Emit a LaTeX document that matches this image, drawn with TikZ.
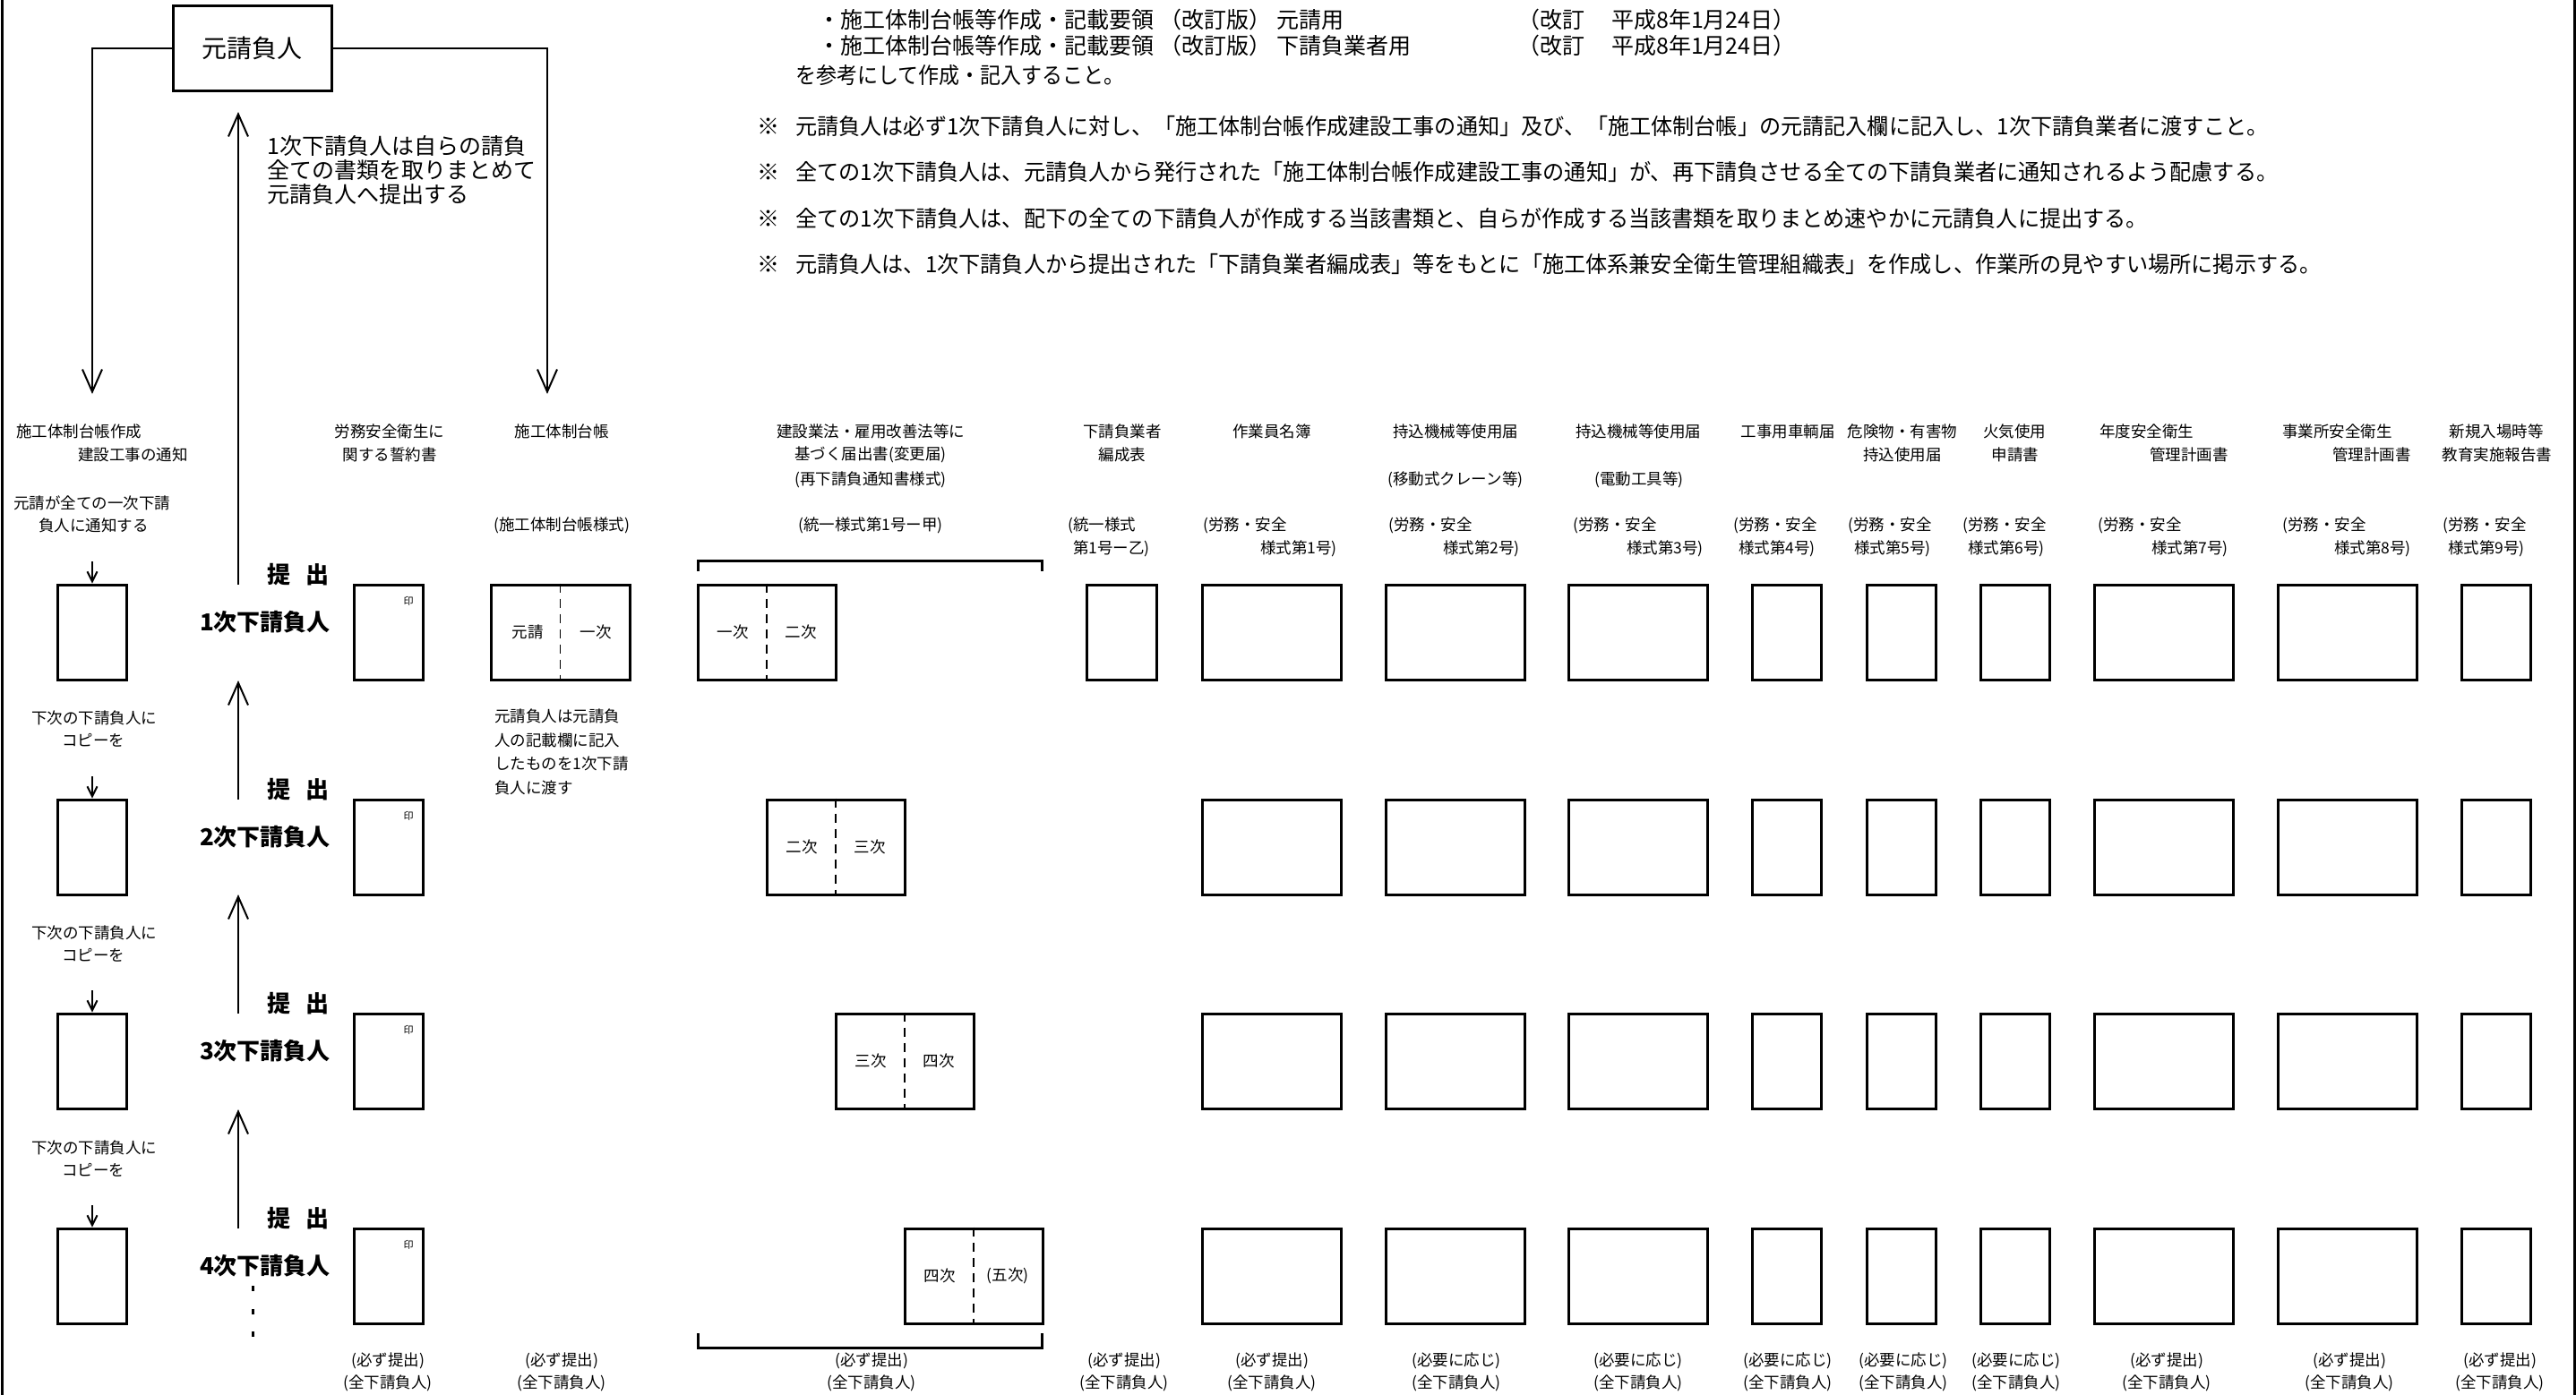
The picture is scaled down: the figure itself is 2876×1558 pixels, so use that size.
\documentclass[tikz,border=0pt]{standalone}
\usepackage{fontspec}
\setmainfont{Noto Sans CJK JP}
\newfontfamily\condfont[FakeStretch=0.966]{Noto Sans CJK JP}
\newfontfamily\condfontb[FakeStretch=0.92]{Noto Sans CJK JP}
\usetikzlibrary{arrows.meta}
\newcommand\fsz[1]{\fontsize{#1}{#1}\selectfont}
\begin{document}
\begin{tikzpicture}[x=1pt,y=-1pt,
  every node/.style={inner sep=0pt},
  sm/.style={font=\fsz{17.5}},
  md/.style={font=\fsz{25}},
  nt/.style={font=\condfont\fsz{25}},
  bg/.style={font=\bfseries\fsz{26}},
  docbox/.style={draw,line width=3pt,minimum height=106pt},
  nar/.style={docbox,minimum width=77pt},
  wid/.style={docbox,minimum width=155pt},
  conn/.style={line width=2pt},
  bigarr/.style={conn,-{Straight Barb[length=25pt,width=22pt]}},
  smallarr/.style={conn,-{Straight Barb[length=11pt,width=11pt]}},
  divider/.style={line width=1.5pt,dash pattern=on 10pt off 7pt},
  brk/.style={line width=3pt},
  stamp/.style={font=\fsz{11}},
]
\useasboundingbox (0,0) rectangle (2876,1558);
\fill[white] (0,0) rectangle (2876,1558);
\draw[line width=3pt] (2,0) -- (2,1558);
\draw[line width=3pt] (2874,0) -- (2874,1558);

% ---------- top reference text ----------
\node[md,anchor=west] (ref1) at (913,22) {・施工体制台帳等作成・記載要領\hspace{6pt}（改訂版）\hspace{6pt}元請用};
\node[md,anchor=west] (ref1d) at (1694,22) {（改訂\hspace{30pt}平成8年1月24日）};
\node[md,anchor=west] (ref2) at (913,51) {・施工体制台帳等作成・記載要領\hspace{6pt}（改訂版）\hspace{6pt}下請負業者用};
\node[md,anchor=west] (ref2d) at (1694,51) {（改訂\hspace{30pt}平成8年1月24日）};
\node[md,anchor=west,font=\condfontb\fsz{25}] (ref3) at (888,84) {を参考にして作成・記入すること。};

% ---------- notes ----------
\node[md,anchor=west] (k1) at (845,141) {※};
\node[nt,anchor=west] (n1) at (888,141) {元請負人は必ず1次下請負人に対し、「施工体制台帳作成建設工事の通知」及び、「施工体制台帳」の元請記入欄に記入し、1次下請負業者に渡すこと。};
\node[md,anchor=west] (k2) at (845,192) {※};
\node[nt,anchor=west] (n2) at (888,192) {全ての1次下請負人は、元請負人から発行された「施工体制台帳作成建設工事の通知」が、再下請負させる全ての下請負業者に通知されるよう配慮する。};
\node[md,anchor=west] (k3) at (845,244) {※};
\node[nt,anchor=west] (n3) at (888,244) {全ての1次下請負人は、配下の全ての下請負人が作成する当該書類と、自らが作成する当該書類を取りまとめ速やかに元請負人に提出する。};
\node[md,anchor=west] (k4) at (845,295) {※};
\node[nt,anchor=west] (n4) at (888,295) {元請負人は、1次下請負人から提出された「下請負業者編成表」等をもとに「施工体系兼安全衛生管理組織表」を作成し、作業所の見やすい場所に掲示する。};

% ---------- prime contractor ----------
\node[draw,line width=3pt,minimum width=177pt,minimum height=95pt,font=\fsz{28}] (moto) at (281.5,53.5) {元請負人};
\coordinate (lt) at (103,440);
\coordinate (rt) at (611,440);
\draw[bigarr] (moto.west) -| (lt);
\draw[bigarr] (moto.east) -| (rt);
\coordinate (up0b) at (266,653);
\coordinate (up0t) at (266,125);
\draw[bigarr] (up0b) -- (up0t);
\node[md,anchor=west,align=left,font=\fontsize{25}{27}\selectfont] (gather) at (298,190) {1次下請負人は自らの請負\\全ての書類を取りまとめて\\元請負人へ提出する};

% ---------- column headers ----------
\node[sm,anchor=west] (h1a) at (18,482) {施工体制台帳作成};
\node[sm,anchor=west] (h1b) at (87,508) {建設工事の通知};
\node[sm,anchor=west] (h1c) at (15,562) {元請が全ての一次下請};
\node[sm,anchor=west] (h1d) at (43,587) {負人に通知する};

\node[sm] (h3a) at (435,482) {労務安全衛生に};
\node[sm] (h3b) at (435,508) {関する誓約書};

\node[sm] (h4a) at (627,482) {施工体制台帳};
\node[sm] (h4b) at (627,587) {(施工体制台帳様式)};

\node[sm] (h5a) at (972,482) {建設業法・雇用改善法等に};
\node[sm] (h5b) at (972,508) {基づく届出書(変更届)};
\node[sm] (h5c) at (972,536) {(再下請負通知書様式)};
\node[sm] (h5d) at (972,587) {(統一様式第1号ー甲)};

\node[sm] (h6a) at (1253,482) {下請負業者};
\node[sm] (h6b) at (1253,508) {編成表};
\node[sm,anchor=west] (h6c) at (1192,587) {(統一様式};
\node[sm,anchor=west] (h6d) at (1198,613) {第1号ー乙)};

\node[sm] (h7a) at (1420,482) {作業員名簿};
\node[sm,anchor=west] (h7c) at (1343,587) {(労務・安全};
\node[sm,anchor=east] (h7d) at (1493,613) {様式第1号)};

\node[sm] (h8a) at (1625,482) {持込機械等使用届};
\node[sm] (h8b) at (1625,536) {(移動式クレーン等)};
\node[sm,anchor=west] (h8c) at (1550,587) {(労務・安全};
\node[sm,anchor=east] (h8d) at (1697,613) {様式第2号)};

\node[sm] (h9a) at (1829,482) {持込機械等使用届};
\node[sm] (h9b) at (1830,536) {(電動工具等)};
\node[sm,anchor=west] (h9c) at (1756,587) {(労務・安全};
\node[sm,anchor=east] (h9d) at (1902,613) {様式第3号)};

\node[sm] (h10a) at (1996,482) {工事用車輌届};
\node[sm,anchor=west] (h10c) at (1935,587) {(労務・安全};
\node[sm,anchor=west] (h10d) at (1941,613) {様式第4号)};

\node[sm] (h11a) at (2124,482) {危険物・有害物};
\node[sm] (h11b) at (2124,508) {持込使用届};
\node[sm,anchor=west] (h11c) at (2063,587) {(労務・安全};
\node[sm,anchor=west] (h11d) at (2070,613) {様式第5号)};

\node[sm] (h12a) at (2249,482) {火気使用};
\node[sm] (h12b) at (2250,508) {申請書};
\node[sm,anchor=west] (h12c) at (2191,587) {(労務・安全};
\node[sm,anchor=west] (h12d) at (2197,613) {様式第6号)};

\node[sm,anchor=west] (h13a) at (2344,482) {年度安全衛生};
\node[sm,anchor=east] (h13b) at (2488,508) {管理計画書};
\node[sm,anchor=west] (h13c) at (2342,587) {(労務・安全};
\node[sm,anchor=east] (h13d) at (2488,613) {様式第7号)};

\node[sm,anchor=west] (h14a) at (2548,482) {事業所安全衛生};
\node[sm,anchor=east] (h14b) at (2692,508) {管理計画書};
\node[sm,anchor=west] (h14c) at (2548,587) {(労務・安全};
\node[sm,anchor=east] (h14d) at (2692,613) {様式第8号)};

\node[sm] (h15a) at (2787,482) {新規入場時等};
\node[sm] (h15b) at (2788,508) {教育実施報告書};
\node[sm,anchor=west] (h15c) at (2727,587) {(労務・安全};
\node[sm,anchor=west] (h15d) at (2733,613) {様式第9号)};

% ---------- rows ----------
\foreach \r/\yc/\lbl in {1/706/1, 2/946/2, 3/1185/3, 4/1425/4}{
  \node[nar] (c1r\r) at (103,\yc) {};
  \coordinate (c1a\r) at (103,\yc-79);
  \draw[smallarr] (c1a\r) -- (c1r\r.north);
  \node[bg] (sub\r) at (296,\yc-11) {\lbl 次下請負人};
  \node[bg] (tei\r) at (333,\yc-64) {提\hspace{17pt}出};
  \node[nar] (c3r\r) at (433.5,\yc) {};
  \node[stamp] (in\r) at (456,\yc-35) {印};
  \node[wid] (c7r\r) at (1419.5,\yc) {};
  \node[wid] (c8r\r) at (1624.5,\yc) {};
  \node[wid] (c9r\r) at (1829,\yc) {};
  \node[nar] (c10r\r) at (1994.5,\yc) {};
  \node[nar] (c11r\r) at (2123,\yc) {};
  \node[nar] (c12r\r) at (2250,\yc) {};
  \node[wid] (c13r\r) at (2416,\yc) {};
  \node[wid] (c14r\r) at (2620.5,\yc) {};
  \node[nar] (c15r\r) at (2786.5,\yc) {};
}
\foreach \r/\yc in {1/802, 2/1042, 3/1282}{
  \node[sm] (cp\r a) at (105,\yc) {下次の下請負人に};
  \node[sm] (cp\r b) at (104,\yc+25) {コピーを};
}
\foreach \r/\yb in {1/893, 2/1132, 3/1372}{
  \coordinate (ub\r) at (266,\yb);
  \coordinate (ut\r) at (266,\yb-133);
  \draw[bigarr] (ub\r) -- (ut\r);
}
\foreach \yy in {1439,1465,1490}
  \fill (280.5,\yy-3) rectangle (283.5,\yy+3);

% ---------- 施工体制台帳 ----------
\node[wid] (c4r1) at (625.5,706) {};
\draw[divider] (c4r1.north) -- (c4r1.south);
\node[sm] (c4l) at (589,706) {元請};
\node[sm] (c4r) at (665,706) {一次};
\node[sm,anchor=west,align=left,font=\fontsize{17.5}{26.7}\selectfont] (c4note) at (552,840) {元請負人は元請負\\人の記載欄に記入\\したものを1次下請\\負人に渡す};

% ---------- 再下請負通知書 ----------
\foreach \r/\xc/\yc/\la/\lb in {1/856/706/一次/二次, 2/933/946/二次/三次, 3/1010/1185/三次/四次, 4/1087/1425/四次/(五次)}{
  \node[docbox,minimum width=154pt] (c5r\r) at (\xc,\yc) {};
  \draw[divider] (c5r\r.north) -- (c5r\r.south);
  \node[sm] (c5a\r) at (\xc-38,\yc) {\la};
  \node[sm] (c5b\r) at (\xc+38,\yc) {\lb};
}
\draw[brk] (779,638) -- (779,626) -- (1163,626) -- (1163,638);
\draw[brk] (779,1489) -- (779,1505) -- (1163,1505) -- (1163,1489);

% ---------- 下請負業者編成表 ----------
\node[docbox,minimum width=78pt] (c6r1) at (1252.5,706) {};

% ---------- bottom notes ----------
\foreach \n/\xc/\tx in {3/433/必ず提出, 4/627/必ず提出, 5/973/必ず提出, 6/1255/必ず提出, 7/1420/必ず提出, 8/1626/必要に応じ, 9/1829/必要に応じ, 10/1996/必要に応じ, 11/2125/必要に応じ, 12/2251/必要に応じ, 13/2419/必ず提出, 14/2623/必ず提出, 15/2791/必ず提出}{
  \node[sm] (bt\n) at (\xc,1520) {(\tx)};
  \node[sm] (bb\n) at (\xc,1545) {(全下請負人)};
}
\end{tikzpicture}
\end{document}
